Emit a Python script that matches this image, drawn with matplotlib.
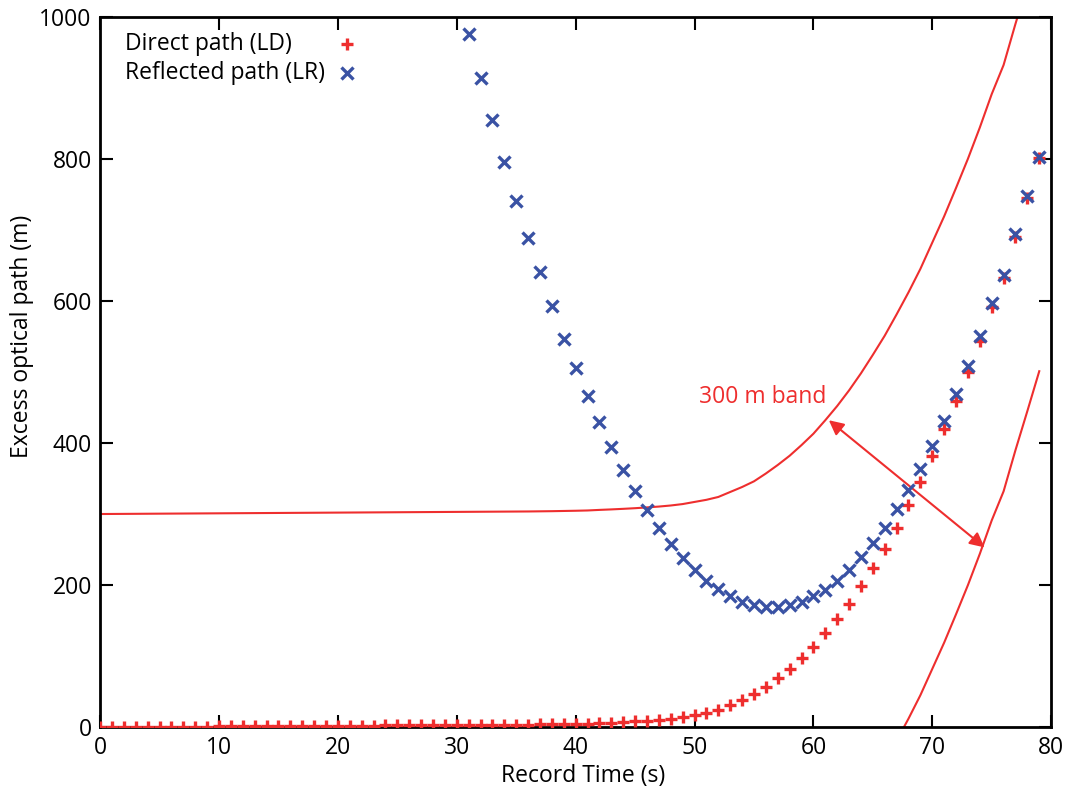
import numpy as np
import matplotlib
matplotlib.use('Agg')
import matplotlib.pyplot as plt

plt.rcParams['font.family'] = ['Open Sans', 'DejaVu Sans']

# Direct path (LD): one sample per second, 0..79 s
t_direct = list(range(0, 80))
ld = [0.0, 0.1, 0.2, 0.3, 0.4, 0.5, 0.6, 0.7, 0.8, 0.9,
      1.0, 1.1, 1.2, 1.3, 1.4, 1.5, 1.6, 1.7, 1.8, 1.9,
      2.0, 2.1, 2.2, 2.3, 2.4, 2.5, 2.6, 2.7, 2.8, 2.9,
      3.0, 3.1, 3.2, 3.3, 3.4, 3.5, 3.6, 3.8, 4.0, 4.3,
      4.6, 5.0, 5.8, 6.5, 7.3, 8.2, 9.3, 10.5, 12, 14,
      17, 20, 24, 31, 38, 46, 57, 69, 82, 97,
      113, 132, 152, 174, 198, 224, 251, 281, 312, 345,
      382, 419, 459, 500, 544, 591, 632, 690, 745, 801]

# Reflected path (LR): 31..79 s (earlier values are off the chart)
t_reflected = list(range(31, 80))
lr = [976, 913, 854, 796, 741, 689, 640, 593, 547, 505,
      466, 429, 394, 362, 333, 305, 280, 258, 238, 221,
      206, 194, 184, 176, 172, 169, 169, 172, 176, 184,
      193, 206, 221, 240, 259, 281, 307, 334, 363, 396,
      431, 469, 509, 551, 597, 637, 694, 747, 803]

band_half = 300

red = '#ee2e2e'
blue = '#3a52a4'
fs = 16.5

fig = plt.figure(figsize=(10.65, 7.93), dpi=100)
ax = fig.add_axes([0.094, 0.083, 0.893, 0.896])

ld_arr = np.array(ld)
ax.plot(t_direct, ld_arr + band_half, color=red, lw=1.5, zorder=2)
ax.plot(t_direct, ld_arr - band_half, color=red, lw=1.5, zorder=2)

ax.plot(t_direct, ld, linestyle='none', marker='+', color=red,
        markersize=9, markeredgewidth=2.4, zorder=3)
ax.plot(t_reflected, lr, linestyle='none', marker='x', color=blue,
        markersize=8, markeredgewidth=2.4, zorder=4)

# band annotation
ax.annotate('', xy=(61.3, 432), xytext=(74.4, 253),
            arrowprops=dict(arrowstyle='<|-|>', color=red, lw=1.5,
                            mutation_scale=22, shrinkA=0, shrinkB=0))
ax.text(50.4, 465, '300 m band', color=red, fontsize=fs, ha='left', va='center')

# legend, gnuplot style: labels left, sample marks to the right
legend_items = [('Direct path (LD)', '+', red, 9, 0.961),
                ('Reflected path (LR)', 'x', blue, 8, 0.921)]
for label, mk, col, ms, yy in legend_items:
    ax.text(0.026, yy, label, transform=ax.transAxes, fontsize=fs,
            ha='left', va='center')
    ax.plot([0.26], [yy], transform=ax.transAxes, linestyle='none', marker=mk,
            color=col, markersize=ms, markeredgewidth=2.4, clip_on=False)

ax.set_xlim(0, 80)
ax.set_ylim(0, 1000)
ax.set_xticks(range(0, 81, 10))
ax.set_yticks(range(0, 1001, 200))
ax.tick_params(direction='in', length=9, width=1.5, top=True, right=True,
               labelsize=fs, pad=6)
for s in ax.spines.values():
    s.set_linewidth(2)

ax.set_xlabel('Record Time (s)', fontsize=fs, labelpad=1)
ax.xaxis.set_label_coords(0.508, -0.052)
ax.set_ylabel('Excess optical path (m)', fontsize=fs)
ax.yaxis.set_label_coords(-0.07, 0.55)

fig.savefig('out.png', dpi=100)
